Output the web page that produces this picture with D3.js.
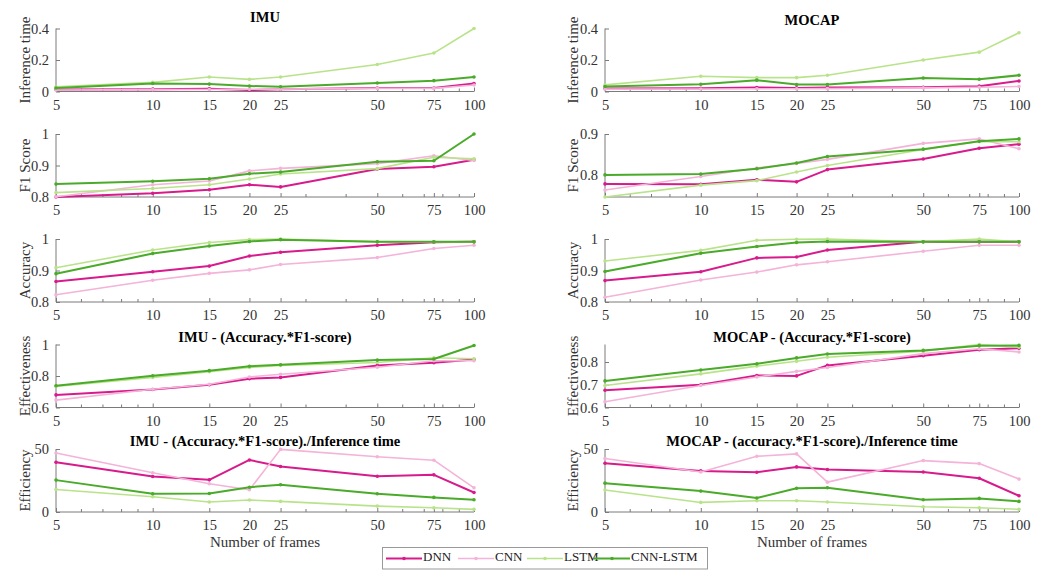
<!DOCTYPE html>
<html><head><meta charset="utf-8">
<script src="https://cdn.jsdelivr.net/npm/d3@7"></script>
<style>
body{margin:0;background:#fff;}
svg{display:block;font-family:"Liberation Serif","Times New Roman",serif;}
</style></head>
<body><svg id="c" width="1049" height="571"></svg>
<script>
const frames = [5,10,15,20,25,50,75,100];
const models = ["DNN","CNN","LSTM","CNN-LSTM"];
const colors = ["#d81b8c","#f4b3d8","#b9e38a","#4aab2a"];

// rows: [DNN, CNN, LSTM, CNN-LSTM]
const imuTime = [
  [0.013,0.015,0.017,0.009,0.015,0.022,0.022,0.051],
  [0.010,0.012,0.013,0.014,0.015,0.020,0.020,0.041],
  [0.030,0.058,0.092,0.077,0.092,0.171,0.244,0.400],
  [0.022,0.051,0.047,0.035,0.030,0.054,0.069,0.092]];
const mocapTime = [
  [0.019,0.021,0.025,0.023,0.025,0.027,0.034,0.067],
  [0.015,0.016,0.017,0.017,0.018,0.023,0.027,0.032],
  [0.042,0.097,0.088,0.088,0.103,0.200,0.250,0.373],
  [0.032,0.046,0.072,0.044,0.044,0.086,0.078,0.103]];
const imuF1 = [
  [0.800,0.812,0.823,0.839,0.832,0.889,0.896,0.918],
  [0.801,0.839,0.851,0.883,0.891,0.906,0.931,0.916],
  [0.814,0.827,0.839,0.857,0.873,0.890,0.926,0.921],
  [0.841,0.850,0.858,0.874,0.879,0.912,0.915,1.000]];
const mocapF1 = [
  [0.778,0.777,0.788,0.783,0.813,0.839,0.865,0.875],
  [0.763,0.796,0.817,0.828,0.838,0.877,0.888,0.864],
  [0.746,0.775,0.786,0.807,0.823,0.862,0.882,0.881],
  [0.800,0.802,0.815,0.829,0.845,0.863,0.882,0.888]];
const imuAcc = [
  [0.865,0.896,0.914,0.946,0.958,0.980,0.990,0.991],
  [0.823,0.869,0.891,0.902,0.919,0.941,0.970,0.980],
  [0.909,0.965,0.989,0.998,1.000,0.991,0.991,0.991],
  [0.890,0.954,0.978,0.992,0.998,0.991,0.991,0.991]];
const mocapAcc = [
  [0.868,0.896,0.940,0.943,0.965,0.991,0.991,0.991],
  [0.815,0.870,0.895,0.918,0.928,0.961,0.980,0.980],
  [0.930,0.964,0.996,0.999,1.000,0.991,1.000,0.991],
  [0.897,0.955,0.976,0.989,0.992,0.991,0.991,0.991]];
const imuEff = [
  [0.680,0.714,0.744,0.783,0.791,0.867,0.884,0.905],
  [0.647,0.716,0.748,0.794,0.811,0.856,0.897,0.897],
  [0.733,0.791,0.828,0.854,0.867,0.886,0.916,0.910],
  [0.738,0.802,0.834,0.862,0.871,0.901,0.908,0.994]];
const mocapEff = [
  [0.676,0.700,0.741,0.739,0.785,0.828,0.854,0.861],
  [0.625,0.697,0.734,0.759,0.776,0.837,0.858,0.844],
  [0.697,0.748,0.782,0.803,0.821,0.848,0.877,0.865],
  [0.717,0.765,0.792,0.818,0.835,0.851,0.872,0.873]];
const imuEfficiency = [
  [39.5,28.2,25.5,41.3,36.1,28.4,29.5,15.5],
  [46.8,31.1,22.4,17.6,49.7,43.9,41.1,19.2],
  [17.9,12.1,7.9,9.5,8.4,4.7,3.4,2.1],
  [25.3,14.5,14.7,19.7,21.6,14.5,11.6,9.7]];
const mocapEfficiency = [
  [38.7,32.6,31.6,35.8,33.7,31.8,26.8,12.9],
  [42.4,31.8,44.2,46.1,23.7,40.8,38.4,26.1],
  [17.4,7.6,8.9,8.9,7.9,4.2,3.4,2.1],
  [22.9,16.6,11.1,18.9,19.2,9.7,10.8,8.4]];

const yLabels = ["Inference time","F1 Score","Accuracy","Effectiveness","Efficiency"];
const titlesLeft = ["IMU",null,null,"IMU - (Accuracy.*F1-score)","IMU - (Accuracy.*F1-score)./Inference time"];
const titlesRight = ["MOCAP",null,null,"MOCAP - (Accuracy.*F1-score)","MOCAP - (accuracy.*F1-score)./Inference time"];
const leftDomains = [[0,0.4],[0.8,1],[0.8,1],[0.6,1],[0,50]];
const rightDomains = [[0,0.4],[0.746,0.9],[0.8,1],[0.6,0.877],[0,50]];
const leftTicks = [[0,0.2,0.4],[0.8,0.9,1],[0.8,0.9,1],[0.6,0.8,1],[0,50]];
const rightTicks = [[0,0.2,0.4],[0.8,0.9],[0.8,0.9,1],[0.6,0.7,0.8],[0,50]];
const leftData = [imuTime,imuF1,imuAcc,imuEff,imuEfficiency];
const rightData = [mocapTime,mocapF1,mocapAcc,mocapEff,mocapEfficiency];
const minorTicks = [6,7,8,9,30,40,60,70,80,90];

const svg = d3.select("#c");
const rowTops = [28.5,134,239,344.5,449];
const rowH = 63;
const cols = [
  {x0:56,x1:474,ylab:27,data:leftData,dom:leftDomains,ticks:leftTicks,titles:titlesLeft,t0:22},
  {x0:605,x1:1019,ylab:575,data:rightData,dom:rightDomains,ticks:rightTicks,titles:titlesRight,t0:25}];
const axisCol = "#7a7a7a", textCol = "#333";
const fmt = v => (v===0?"0":String(v));

cols.forEach(col=>{
  const x = d3.scaleLog().domain([5,100]).range([col.x0,col.x1]);
  rowTops.forEach((top,r)=>{
    const y = d3.scaleLinear().domain(col.dom[r]).range([top+rowH,top]);
    const g = svg.append("g");
    // x axis
    const xa = g.append("g").attr("transform",`translate(0,${top+rowH})`)
      .call(d3.axisBottom(x).tickValues(frames).tickFormat(d=>d).tickSize(-4).tickPadding(8));
    xa.select(".domain").attr("stroke",axisCol).attr("d",`M${col.x0},0H${col.x1}`);
    xa.selectAll(".tick line").attr("stroke",axisCol);
    xa.selectAll(".tick text").attr("fill",textCol).style("font-size","14.5px").style("font-family","Liberation Serif");
    xa.selectAll(".minor").data(minorTicks).enter().append("line")
      .attr("x1",d=>x(d)).attr("x2",d=>x(d)).attr("y1",0).attr("y2",-3).attr("stroke",axisCol);
    // y axis
    const ya = g.append("g").attr("transform",`translate(${col.x0},0)`)
      .call(d3.axisLeft(y).tickValues(col.ticks[r]).tickFormat(fmt).tickSize(-4).tickPadding(7));
    ya.select(".domain").attr("stroke",axisCol).attr("d",`M0,${top+rowH}V${top}`);
    ya.selectAll(".tick line").attr("stroke",axisCol);
    ya.selectAll(".tick text").attr("fill",textCol).style("font-size","14.5px").style("font-family","Liberation Serif");
    // y label
    g.append("text").attr("transform",`translate(${col.ylab},${top+rowH/2}) rotate(-90)`)
      .attr("text-anchor","middle").attr("dominant-baseline","middle")
      .style("font-size","15px").attr("fill",textCol).text(yLabels[r]);
    // title
    if(col.titles[r]){
      g.append("text").attr("x",(col.x0+col.x1)/2).attr("y",r===0?col.t0:top-3)
        .attr("text-anchor","middle").style("font-size","14.5px").style("font-weight","bold")
        .attr("fill","#000").text(col.titles[r]);
    }
    // lines
    const line = d3.line().x((d,i)=>x(frames[i])).y(d=>y(d));
    col.data[r].forEach((vals,m)=>{
      const lw = (m===0||m===3)?2:1.6;
      g.append("path").datum(vals).attr("d",line).attr("fill","none")
        .attr("stroke",colors[m]).attr("stroke-width",lw).attr("stroke-linejoin","round");
      g.selectAll(null).data(vals).enter().append("circle")
        .attr("cx",(d,i)=>x(frames[i])).attr("cy",d=>y(d)).attr("r",1.8).attr("fill",colors[m]);
    });
  });
  svg.append("text").attr("x",(col.x0+col.x1)/2).attr("y",547)
    .attr("text-anchor","middle").style("font-size","15px").attr("fill",textCol).text("Number of frames");
});

// legend
const lg = svg.append("g");
lg.append("rect").attr("x",382.5).attr("y",547.5).attr("width",325).attr("height",21.5)
  .attr("fill","#fff").attr("stroke","#999").attr("stroke-width",1);
const legX = [386,458,527,594];
models.forEach((m,i)=>{
  const lx = legX[i], ly = 558.5;
  lg.append("line").attr("x1",lx).attr("x2",lx+36).attr("y1",ly).attr("y2",ly)
    .attr("stroke",colors[i]).attr("stroke-width",(i===0||i===3)?2:1.6);
  lg.append("circle").attr("cx",lx+18).attr("cy",ly).attr("r",1.8).attr("fill",colors[i]);
  lg.append("text").attr("x",lx+37).attr("y",ly).attr("dominant-baseline","middle")
    .style("font-size","13px").attr("fill","#222").text(m);
});
</script></body></html>
